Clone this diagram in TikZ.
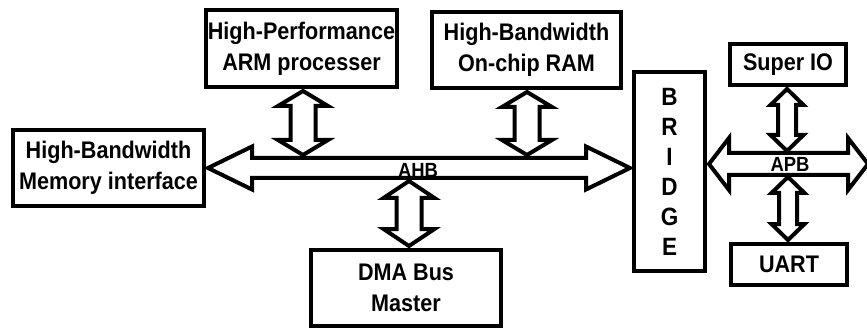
\documentclass[tikz,border=0pt]{standalone}
\usepackage{fontspec}
\usetikzlibrary{calc}
\newfontfamily\lbl{Liberation Sans}[FakeStretch=0.9]

% vertical double block arrow: top tip, bottom tip, shaft half width, head half width, head length
\newcommand\vdarrow[5]{%
  \draw[busline] (#1) -- ($(#1)+(#4,#5)$) -- ($(#1)+(#3,#5)$) -- ($(#2)+(#3,-#5)$)
    -- ($(#2)+(#4,-#5)$) -- (#2) -- ($(#2)+(-#4,-#5)$) -- ($(#2)+(-#3,-#5)$)
    -- ($(#1)+(-#3,#5)$) -- ($(#1)+(-#4,#5)$) -- cycle;}
% horizontal double block arrow: left tip, right tip, shaft half width, head half width, head length
\newcommand\hdarrow[5]{%
  \draw[busline] (#1) -- ($(#1)+(#5,-#4)$) -- ($(#1)+(#5,-#3)$) -- ($(#2)+(-#5,-#3)$)
    -- ($(#2)+(-#5,-#4)$) -- (#2) -- ($(#2)+(-#5,#4)$) -- ($(#2)+(-#5,#3)$)
    -- ($(#1)+(#5,#3)$) -- ($(#1)+(#5,#4)$) -- cycle;}

\begin{document}
\begin{tikzpicture}[x=1pt,y=-1pt,
  block/.style={draw,line width=4pt,inner sep=0pt,align=center,
    font=\lbl\bfseries\fontsize{24}{31}\selectfont},
  busline/.style={draw,fill=white,line width=4pt,line join=miter},
  buslabel/.style={inner sep=0pt,font=\lbl\bfseries\fontsize{20.5}{20.5}\selectfont}]
\useasboundingbox (0,0) rectangle (867,331);

% functional blocks
\node[block,minimum width=191pt,minimum height=77pt] (arm) at (301.5,48.5)
  {High-Performance\\ARM processer};
\node[block,minimum width=189pt,minimum height=76pt] (ram) at (526.5,50)
  {High-Bandwidth\\On-chip RAM};
\node[block,minimum width=191pt,minimum height=76pt] (mem) at (108.5,168)
  {High-Bandwidth\\Memory interface};
\node[block,minimum width=190pt,minimum height=76pt] (dma) at (406,288)
  {DMA Bus\\Master};
\node[block,minimum width=71pt,minimum height=199pt,
  font=\lbl\bfseries\fontsize{25}{30}\selectfont] (bridge) at (669.5,171.5)
  {B\\R\\I\\D\\G\\E};
\node[block,minimum width=116pt,minimum height=41pt] (sio) at (788,64.5) {Super IO};
\node[block,minimum width=116pt,minimum height=41pt] (uart) at (789,264.5) {UART};

% AHB bus
\coordinate (ahbL) at ($(mem.east)+(2,0)$);
\coordinate (ahbR) at ($(mem.east -| bridge.west)+(-2,0)$);
\hdarrow{ahbL}{ahbR}{10}{21.5}{44}

% APB bus
\coordinate (apbL) at ($(bridge.east)+(2,-7.5)$);
\coordinate (apbR) at (868,164);
\hdarrow{apbL}{apbR}{11}{26}{20}

% masters and slaves on the AHB
\coordinate (armT) at ($(arm.south)+(1.5,2)$);
\coordinate (armB) at ($(armT |- ahbL)+(0,-13)$);
\vdarrow{armT}{armB}{12.5}{25}{15}
\coordinate (ramT) at ($(ram.south)+(0.5,2)$);
\coordinate (ramB) at ($(ramT |- ahbL)+(0,-13)$);
\vdarrow{ramT}{ramB}{12.5}{25}{15}
\coordinate (dmaB) at ($(dma.north)+(3,-2)$);
\coordinate (dmaT) at ($(dmaB |- ahbL)+(0,13)$);
\vdarrow{dmaT}{dmaB}{12.5}{25.5}{17}

% peripherals on the APB
\coordinate (sioT) at ($(sio.south)+(-1,2)$);
\coordinate (sioB) at ($(sioT |- apbL)+(0,-13)$);
\vdarrow{sioT}{sioB}{9}{16.5}{16}
\coordinate (uartB) at ($(uart.north)+(-1,-2)$);
\coordinate (uartT) at ($(uartB |- apbL)+(0,13)$);
\vdarrow{uartT}{uartB}{9}{16.5}{16}

% bus names
\node[buslabel] (ahb) at (418,170) {AHB};
\node[buslabel] (apb) at (790,164.5) {APB};
\end{tikzpicture}
\end{document}
